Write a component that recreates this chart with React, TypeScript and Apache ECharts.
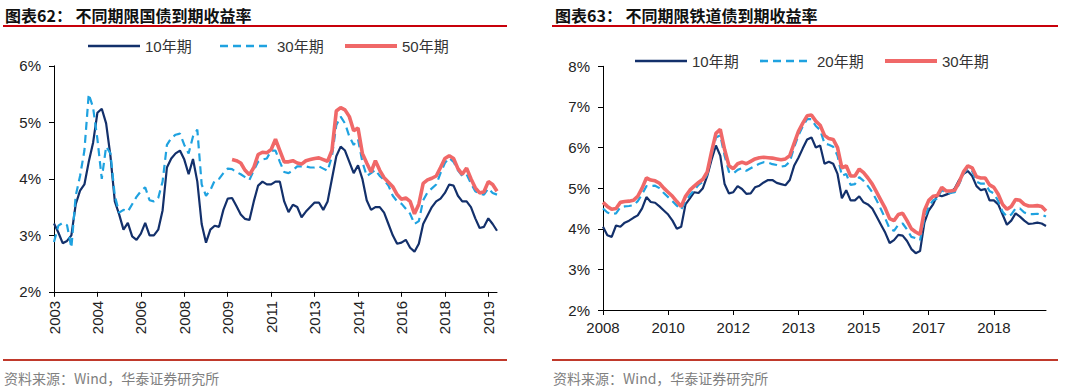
import React, { useEffect, useRef } from "react";
import * as echarts from "echarts";

// ---------- data ----------
const govTicks = ["2003", "2004", "2006", "2008", "2009", "2011", "2013", "2014", "2016", "2018", "2019"];
const govStep = 10;
const railTicks = ["2008", "2010", "2012", "2013", "2015", "2017", "2018"];
const railStep = 15;

const govNames = ["10年期", "30年期", "50年期"];
const railNames = ["10年期", "20年期", "30年期"];

const gov10 = [
  3.21, 3.05, 2.86, 2.9, 3.0, 3.55, 3.79, 3.9, 4.3, 4.64,
  5.17, 5.24, 4.98, 4.4, 3.6, 3.37, 3.1, 3.22, 2.98, 2.92,
  3.03, 3.22, 3.0, 3.0, 3.1, 3.44, 4.2, 4.36, 4.45, 4.5,
  4.34, 4.08, 4.35, 3.95, 3.2, 2.87, 3.1, 3.17, 3.15, 3.45,
  3.65, 3.66, 3.52, 3.37, 3.29, 3.27, 3.6, 3.88, 3.95, 3.9,
  3.9, 3.95, 3.95, 3.6, 3.41, 3.54, 3.5, 3.32, 3.42, 3.5,
  3.58, 3.58, 3.45, 3.6, 4.0, 4.4, 4.57, 4.5, 4.3, 4.1,
  4.24, 4.0, 3.62, 3.45, 3.5, 3.5, 3.4, 3.2, 3.0, 2.85,
  2.87, 2.92, 2.78, 2.71, 2.85, 3.2, 3.35, 3.5, 3.6, 3.65,
  3.75, 3.9, 3.88, 3.7, 3.6, 3.6, 3.5, 3.3, 3.13, 3.15,
  3.3, 3.2, 3.08,
];
const gov30 = [
  2.88, 3.17, 3.22, 3.18, 2.78, 3.7, 4.05, 4.5, 5.5, 5.26,
  4.7, 4.0, 4.57, 4.45, 3.7, 3.4, 3.45, 3.42, 3.55, 3.68,
  3.78, 3.85, 3.62, 3.6, 3.66, 3.95, 4.6, 4.72, 4.78, 4.8,
  4.6, 4.45, 4.75, 4.87, 3.9, 3.7, 3.8, 3.97, 4.0, 4.1,
  4.18, 4.17, 4.12, 4.08, 4.03, 3.98, 4.15, 4.3, 4.34, 4.36,
  4.5, 4.5, 4.3, 4.12, 4.1, 4.15, 4.22, 4.22, 4.22, 4.2,
  4.2, 4.22, 4.18, 4.14, 4.4, 4.95, 5.1, 4.98, 4.75, 4.6,
  4.7, 4.3, 4.05, 4.1, 4.16, 4.05, 3.98, 3.88, 3.7, 3.6,
  3.56, 3.47, 3.38, 3.2, 3.25, 3.62, 3.76, 3.83, 3.9, 4.1,
  4.28, 4.37, 4.3, 4.15, 4.05, 4.08, 3.92, 3.78, 3.74, 3.72,
  3.83, 3.75, 3.72,
];
const gov50Start = 41;
const gov50 = [
  4.34, 4.32, 4.28, 4.15, 4.07, 4.2, 4.43, 4.47, 4.46,
  4.52, 4.7, 4.5, 4.3, 4.3, 4.32, 4.28, 4.26, 4.32, 4.34,
  4.36, 4.37, 4.34, 4.31, 4.5, 5.2, 5.26, 5.22, 5.1, 4.85,
  4.9, 4.45, 4.28, 4.12, 4.32, 4.15, 4.02, 3.94, 3.86, 3.72,
  3.64, 3.66, 3.6, 3.38, 3.55, 3.92, 3.98, 4.01, 4.05, 4.2,
  4.36, 4.41, 4.36, 4.18, 4.08, 4.19, 4.0, 3.84, 3.75, 3.77,
  3.95, 3.9, 3.78,
];

const rail10 = [
  4.05, 3.84, 3.8, 4.08, 4.05, 4.15, 4.2, 4.27, 4.33, 4.5,
  4.78, 4.66, 4.64, 4.55, 4.45, 4.35, 4.2, 4.0, 4.05, 4.6,
  4.75, 4.9, 4.88, 5.0, 5.3, 5.7, 6.05, 5.8, 5.1, 4.87,
  4.9, 5.05, 4.98, 4.86, 4.87, 5.02, 5.06, 5.14, 5.2, 5.2,
  5.13, 5.1, 5.07, 5.2, 5.55, 5.75, 5.98, 6.2, 6.25, 6.0,
  6.05, 5.6, 5.65, 5.6, 5.35, 4.75, 4.95, 4.7, 4.7, 4.8,
  4.65, 4.6, 4.5, 4.3, 4.1, 3.9, 3.65, 3.72, 3.85, 3.83,
  3.7, 3.5, 3.4, 3.45, 4.15, 4.45, 4.6, 4.83, 4.8, 4.84,
  4.88, 5.0, 5.2, 5.35, 5.42, 5.3, 5.05, 4.95, 4.98, 4.7,
  4.7, 4.6, 4.35, 4.1, 4.2, 4.38, 4.3, 4.2, 4.12, 4.13,
  4.15, 4.13, 4.07,
];
const rail20 = [
  4.5, 4.4, 4.36, 4.38, 4.53, 4.55, 4.56, 4.58, 4.68, 4.85,
  5.05, 5.05, 5.06, 5.0, 4.88, 4.78, 4.68, 4.57, 4.47, 4.68,
  4.83, 4.95, 5.08, 5.16, 5.34, 5.82, 6.25, 6.3, 5.8, 5.4,
  5.36, 5.45, 5.49, 5.43, 5.49, 5.55, 5.6, 5.64, 5.63, 5.59,
  5.57, 5.53, 5.55, 5.65, 6.0, 6.3, 6.52, 6.7, 6.7, 6.53,
  6.43, 6.1, 6.07, 6.02, 5.8, 5.3, 5.35, 5.08, 5.1, 5.27,
  5.18, 5.05, 4.9, 4.7, 4.48, 4.25, 4.0, 3.95, 4.1, 4.13,
  3.98, 3.8, 3.77, 3.72, 4.25, 4.55, 4.7, 4.74, 4.96, 4.87,
  4.88, 4.9, 5.1, 5.35, 5.5, 5.42, 5.16, 5.11, 5.11, 4.93,
  4.87, 4.68, 4.42, 4.3, 4.35, 4.5, 4.5, 4.4, 4.36, 4.36,
  4.37, 4.35, 4.3,
];
const rail30 = [
  4.65, 4.55, 4.48, 4.5, 4.65, 4.67, 4.68, 4.7, 4.8, 5.0,
  5.25, 5.2, 5.18, 5.12, 5.0, 4.9, 4.8, 4.67, 4.55, 4.8,
  4.95, 5.05, 5.14, 5.22, 5.4, 5.9, 6.35, 6.45, 5.95, 5.55,
  5.48, 5.6, 5.64, 5.6, 5.66, 5.72, 5.75, 5.76, 5.75, 5.74,
  5.72, 5.7, 5.72, 5.8, 6.1, 6.4, 6.6, 6.78, 6.8, 6.65,
  6.55, 6.3, 6.22, 6.2, 6.0, 5.5, 5.55, 5.3, 5.3, 5.47,
  5.38, 5.25, 5.1, 4.9, 4.7, 4.5, 4.25, 4.2, 4.35, 4.38,
  4.2, 4.0, 3.92, 3.86, 4.45, 4.7, 4.8, 4.82, 5.02, 4.93,
  4.93, 4.95, 5.15, 5.4, 5.55, 5.5, 5.28, 5.25, 5.25, 5.08,
  5.02, 4.85, 4.6, 4.48, 4.55, 4.72, 4.7, 4.6, 4.56, 4.56,
  4.57, 4.55, 4.44,
];

// ---------- styles ----------
const NAVY = "#13306b";
const SKY = "#1fa2e0";
const SALMON = "#f06868";
const FONT = "'Liberation Sans', Arial, 'Noto Sans CJK SC', sans-serif";
const CJK = "'Noto Sans CJK SC', sans-serif";

const LINE_STYLES = [
  { color: NAVY, width: 2.2, dash: null as number[] | null },
  { color: SKY, width: 2.2, dash: [8, 5] as number[] | null },
  { color: SALMON, width: 3.6, dash: null as number[] | null },
];

function makeCats(ticks: string[], step: number, n: number): string[] {
  const out: string[] = [];
  for (let i = 0; i < n; i++) {
    out.push(i % step === 0 && ticks[i / step] ? ticks[i / step] : "");
  }
  return out;
}

interface Cfg {
  title: string;
  titleX: number;
  ruleX1: number;
  ruleX2: number;
  footerX: number;
  grid: { left: number; top: number; width: number; height: number };
  yMin: number;
  yMax: number;
  cats: string[];
  step: number;
  rotate: number;
  labelMargin: number;
  legendXs: number[];
  legendY: number;
  names: string[];
  data: (number | null)[][];
}

function legendGraphics(c: Cfg) {
  const out: any[] = [];
  c.names.forEach((name, k) => {
    const s = LINE_STYLES[k];
    const x0 = c.legendXs[k];
    out.push({
      type: "line",
      shape: { x1: x0, y1: c.legendY, x2: x0 + 52, y2: c.legendY },
      style: {
        stroke: s.color,
        lineWidth: k === 2 ? 4 : 2.7,
        lineDash: s.dash || undefined,
      },
    });
    out.push({
      type: "text",
      x: x0 + 57,
      y: c.legendY,
      style: {
        text: name,
        fontSize: 15,
        fontFamily: FONT,
        fill: "#333",
        textAlign: "left",
        textVerticalAlign: "middle",
      },
    });
  });
  return out;
}

function buildOption(c: Cfg) {
  return {
    animation: false,
    backgroundColor: "#ffffff",
    grid: c.grid,
    xAxis: {
      type: "category",
      data: c.cats,
      boundaryGap: false,
      axisLine: { lineStyle: { color: "#000", width: 1 } },
      axisTick: {
        show: true,
        length: 5,
        interval: (i: number) => i % c.step === 0,
        lineStyle: { color: "#000" },
      },
      axisLabel: {
        interval: (i: number) => i % c.step === 0,
        rotate: c.rotate,
        margin: c.labelMargin,
        fontSize: 15,
        color: "#222",
        fontFamily: FONT,
      },
      splitLine: { show: false },
    },
    yAxis: {
      type: "value",
      min: c.yMin,
      max: c.yMax,
      interval: 1,
      axisLine: { show: true, lineStyle: { color: "#000", width: 1 } },
      axisTick: { show: true, length: 5, lineStyle: { color: "#000" } },
      axisLabel: {
        formatter: "{value}%",
        margin: 13,
        fontSize: 15,
        color: "#222",
        fontFamily: FONT,
      },
      splitLine: { show: false },
    },
    series: c.names.map((name, k) => ({
      name,
      type: "line",
      data: c.data[k],
      symbol: "none",
      showSymbol: false,
      connectNulls: false,
      lineStyle: {
        color: LINE_STYLES[k].color,
        width: LINE_STYLES[k].width,
        type: (LINE_STYLES[k].dash || "solid") as any,
      },
      itemStyle: { color: LINE_STYLES[k].color },
      z: 2 + k,
    })),
    graphic: [
      {
        type: "text",
        x: c.titleX,
        y: 15,
        style: {
          text: c.title,
          fontSize: 16,
          fontWeight: "bold",
          fontFamily: CJK,
          fill: "#111",
          textAlign: "left",
          textVerticalAlign: "middle",
        },
      },
      {
        type: "line",
        shape: { x1: c.ruleX1, y1: 26, x2: c.ruleX2, y2: 26 },
        style: { stroke: "#c8000a", lineWidth: 2 },
      },
      ...legendGraphics(c),
      {
        type: "line",
        shape: { x1: c.ruleX1, y1: 360, x2: c.ruleX2, y2: 360 },
        style: { stroke: "#c0392b", lineWidth: 2 },
      },
      {
        type: "text",
        x: c.footerX,
        y: 378,
        style: {
          text: "资料来源：Wind，华泰证券研究所",
          fontSize: 14,
          fontFamily: CJK,
          fill: "#808080",
          textAlign: "left",
          textVerticalAlign: "middle",
        },
      },
    ],
  };
}

export default function App() {
  const leftRef = useRef<HTMLDivElement>(null);
  const rightRef = useRef<HTMLDivElement>(null);

  useEffect(() => {
    const c1 = echarts.init(leftRef.current!, undefined, { renderer: "svg" });
    const c2 = echarts.init(rightRef.current!, undefined, { renderer: "svg" });

    const govN = gov10.length;
    const gov50Full: (number | null)[] = [];
    for (let i = 0; i < govN; i++) {
      gov50Full.push(i < gov50Start ? null : gov50[i - gov50Start]);
    }

    c1.setOption(
      buildOption({
        title: "图表62： 不同期限国债到期收益率",
        titleX: 5,
        ruleX1: 3,
        ruleX2: 507,
        footerX: 4,
        grid: { left: 54, top: 65.8, width: 443, height: 226 },
        yMin: 2,
        yMax: 6,
        cats: makeCats(govTicks, govStep, govN),
        step: govStep,
        rotate: 90,
        labelMargin: 9,
        legendXs: [88, 220, 345],
        legendY: 46,
        names: govNames,
        data: [gov10, gov30, gov50Full],
      }) as any
    );

    c2.setOption(
      buildOption({
        title: "图表63： 不同期限铁道债到期收益率",
        titleX: 15,
        ruleX1: 12,
        ruleX2: 518,
        footerX: 13,
        grid: { left: 63, top: 66.3, width: 443, height: 243.7 },
        yMin: 2,
        yMax: 8,
        cats: makeCats(railTicks, railStep, rail10.length),
        step: railStep,
        rotate: 0,
        labelMargin: 10,
        legendXs: [95, 220, 345],
        legendY: 61,
        names: railNames,
        data: [rail10, rail20, rail30],
      }) as any
    );

    return () => {
      c1.dispose();
      c2.dispose();
    };
  }, []);

  return (
    <div
      style={{
        position: "fixed",
        left: 0,
        top: 0,
        width: 1079,
        height: 390,
        background: "#ffffff",
      }}
    >
      <div ref={leftRef} style={{ position: "absolute", left: 0, top: 0, width: 540, height: 390 }} />
      <div ref={rightRef} style={{ position: "absolute", left: 540, top: 0, width: 539, height: 390 }} />
    </div>
  );
}
